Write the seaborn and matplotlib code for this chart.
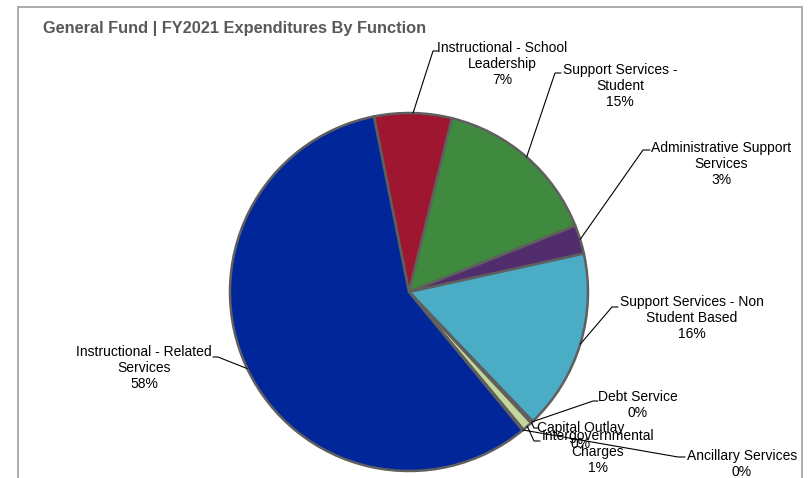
import matplotlib
matplotlib.use("Agg")
import matplotlib.pyplot as plt
import seaborn as sns
import numpy as np
from matplotlib.patches import Rectangle

sns.set_theme(style="white")
plt.rcParams['font.family'] = ['Liberation Sans', 'DejaVu Sans']

title = "General Fund | FY2021 Expenditures By Function"
categories = [
    "Instructional - School\nLeadership",
    "Support Services -\nStudent",
    "Administrative Support\nServices",
    "Support Services - Non\nStudent Based",
    "Debt Service",
    "Capital Outlay",
    "Intergovernmental\nCharges",
    "Ancillary Services",
    "Instructional - Related\nServices",
]
values = [7.0, 15.1, 2.6, 16.3, 0.1, 0.1, 0.9, 0.1, 57.8]
pct_labels = ["7%", "15%", "3%", "16%", "0%", "0%", "1%", "0%", "58%"]
colors = ["#9E1630", "#3F8A3F", "#512D6D", "#4BACC6", "#F79646",
          "#2C4D75", "#C3D69B", "#8064A2", "#00269A"]

W, H = 812, 478
fig = plt.figure(figsize=(W / 100, H / 100), dpi=100)
ax = fig.add_axes([0, 0, 1, 1])

cx, cy, R = 409, H - 292, 179
wedges, _ = ax.pie(values, colors=colors, startangle=101.3, counterclock=False,
                   center=(cx, cy), radius=R,
                   wedgeprops=dict(edgecolor="#5f5f5f", linewidth=1.8))
ax.set_xlim(0, W)
ax.set_ylim(0, H)
ax.set_aspect('equal')
ax.axis('off')

# frame
ax.add_patch(Rectangle((18, -20), 784, H - 7 + 20, fill=False,
                       edgecolor="#a6a6a6", linewidth=1.3, clip_on=False))

ax.text(43, H - 28, title, fontsize=11.8, fontweight='bold', color="#595959",
        ha='left', va='center')

# label layout (pixel coords, y from top): text centre, elbow, line end
layout = [
    (502, 64, 433, 51, 438, 51),
    (620, 86, 555, 73, 561, 73),
    (721, 164, 643, 150, 650, 150),
    (692, 318, 612, 307, 618, 307),
    (638, 405, 593, 401, 598, 401),
    (581, 436, 534, 428, 538, 428),
    (598, 452, 534, 441, 540, 441),
    (742, 464, 678, 457, 685, 457),
    (144, 368, 218, 357, 213, 357),
]

for w, name, pct, (tx, ty, ex, ey, lx, ly) in zip(wedges, categories, pct_labels, layout):
    mid = np.deg2rad((w.theta1 + w.theta2) / 2)
    sx, sy = cx + R * np.cos(mid), cy + R * np.sin(mid)
    ax.plot([sx, ex, lx], [sy, H - ey, H - ly], color="black", lw=0.8,
            solid_joinstyle='miter', zorder=3)
    ax.text(tx, H - ty, f"{name}\n{pct}", fontsize=10, color="black",
            ha='center', va='center', multialignment='center',
            linespacing=1.15, zorder=4)

fig.savefig("out.png", dpi=100)
